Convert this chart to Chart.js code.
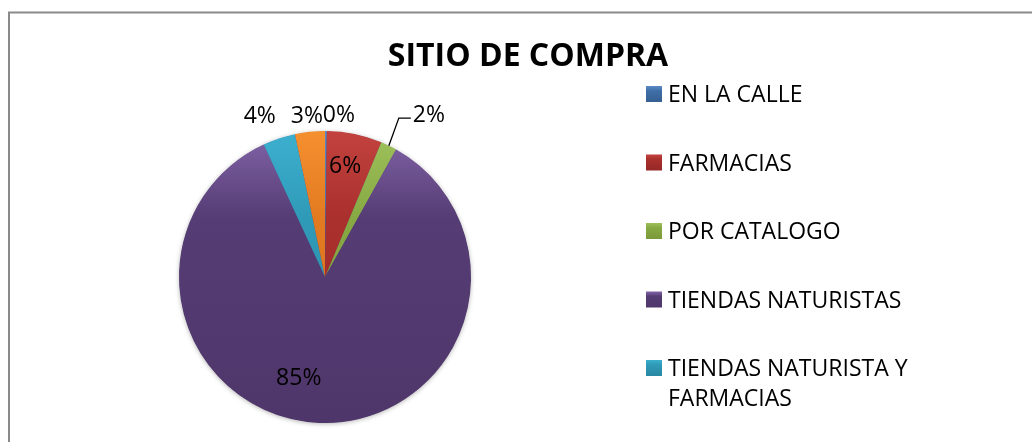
<!DOCTYPE html>
<html>
<head>
<meta charset="utf-8">
<title>Sitio de compra</title>
<script src="https://cdn.jsdelivr.net/npm/chart.js@4/dist/chart.umd.min.js"></script>
<style>
  body { margin: 0; background: #fff; }
  #wrap { position: relative; width: 1032px; height: 442px; }
</style>
</head>
<body>
<div id="wrap"><canvas id="pieChart" width="1032" height="442"></canvas></div>
<script>
// datos
var categorias = ['EN LA CALLE', 'FARMACIAS', 'POR CATALOGO', 'TIENDAS NATURISTAS', 'TIENDAS NATURISTA Y FARMACIAS', 'OTROS'];
var porcentajes = [0.2, 6.1, 1.8, 85.0, 3.6, 3.3];
var leyenda = [['EN LA CALLE'], ['FARMACIAS'], ['POR CATALOGO'], ['TIENDAS NATURISTAS'], ['TIENDAS NATURISTA Y', 'FARMACIAS']];
var titulo = 'SITIO DE COMPRA';

// colores estilo Office (claro, medio, oscuro)
var colores = [
  ['#5a8bc6', '#3f6fa8', '#365f91'],
  ['#c2423f', '#aa302d', '#952826'],
  ['#9fc15c', '#87a943', '#7a9a39'],
  ['#8264a8', '#553c74', '#4f366a'],
  ['#3db0cf', '#2f9ab8', '#2a88a2'],
  ['#f5902f', '#e27a21', '#d06e1c']
];

// posicion de etiquetas: factor de radio y giro (grados) respecto al centro de la porcion
var ajusteEtiquetas = [
  { r: 1.12, da: 4.5 },
  { r: 0.78, da: -1.5 },
  { r: 1.2, da: -1, guia: true },
  { r: 0.71, da: 12.5 },
  { r: 1.2, da: -3.5 },
  { r: 1.12, da: -0.4 }
];

var fuente = '"Open Sans", "DejaVu Sans", sans-serif';

function degradado(ctx, top, bottom, c) {
  var g = ctx.createLinearGradient(0, top, 0, bottom);
  g.addColorStop(0, c[0]);
  g.addColorStop(0.3, c[1]);
  g.addColorStop(1, c[2]);
  return g;
}

var marcoYTitulo = {
  id: 'marcoYTitulo',
  beforeDraw: function (chart) {
    var ctx = chart.ctx;
    ctx.save();
    ctx.strokeStyle = '#8a8a8a';
    ctx.lineWidth = 2;
    ctx.beginPath();
    ctx.moveTo(9, chart.height + 2);
    ctx.lineTo(9, 12.5);
    ctx.lineTo(chart.width + 2, 12.5);
    ctx.stroke();

    ctx.fillStyle = '#000';
    ctx.font = 'bold 32px ' + fuente;
    ctx.textAlign = 'center';
    ctx.textBaseline = 'alphabetic';
    ctx.fillText(titulo, 528, 54.5 + 32 * 0.357);
    ctx.restore();
  }
};

var sombra = {
  id: 'sombra',
  beforeDatasetsDraw: function (chart) {
    var arc = chart.getDatasetMeta(0).data[0];
    if (!arc) return;
    var ctx = chart.ctx;
    ctx.save();
    ctx.shadowColor = 'rgba(0,0,0,0.35)';
    ctx.shadowBlur = 5;
    ctx.shadowOffsetY = 1;
    ctx.fillStyle = '#553c74';
    ctx.beginPath();
    ctx.arc(arc.x, arc.y, arc.outerRadius - 0.5, 0, Math.PI * 2);
    ctx.fill();
    ctx.restore();
  }
};

var etiquetas = {
  id: 'etiquetas',
  afterDatasetsDraw: function (chart) {
    var ctx = chart.ctx;
    var meta = chart.getDatasetMeta(0);
    var size = 23;
    ctx.save();
    ctx.font = size + 'px ' + fuente;
    ctx.fillStyle = '#000';
    ctx.textBaseline = 'alphabetic';
    meta.data.forEach(function (arc, i) {
      var p = arc.getProps(['x', 'y', 'startAngle', 'endAngle', 'outerRadius'], true);
      var aj = ajusteEtiquetas[i];
      var texto = Math.round(porcentajes[i]) + '%';
      var mid = (p.startAngle + p.endAngle) / 2;
      var ang = mid + aj.da * Math.PI / 180;
      var x = p.x + Math.cos(ang) * p.outerRadius * aj.r;
      var y = p.y + Math.sin(ang) * p.outerRadius * aj.r;
      if (aj.guia) {
        var x0 = p.x + Math.cos(mid) * p.outerRadius;
        var y0 = p.y + Math.sin(mid) * p.outerRadius;
        ctx.strokeStyle = '#000';
        ctx.lineWidth = 1.3;
        ctx.beginPath();
        ctx.moveTo(x0, y0);
        ctx.lineTo(x, y);
        ctx.lineTo(x + 12, y);
        ctx.stroke();
        ctx.textAlign = 'left';
        ctx.fillText(texto, x + 14, y - 4 + size * 0.357);
      } else {
        ctx.textAlign = 'center';
        ctx.fillText(texto, x, y + size * 0.357);
      }
    });
    ctx.restore();
  }
};

var leyendaPropia = {
  id: 'leyendaPropia',
  afterDraw: function (chart) {
    var ctx = chart.ctx;
    var size = 23;
    var x = 646, y = 94, paso = 68.5, linea = 29.5, lado = 16;
    ctx.save();
    ctx.font = size + 'px ' + fuente;
    ctx.textAlign = 'left';
    ctx.textBaseline = 'alphabetic';
    leyenda.forEach(function (lineas, i) {
      var cy = y + i * paso;
      ctx.fillStyle = degradado(ctx, cy - lado / 2, cy + lado / 2, colores[i]);
      ctx.fillRect(x, cy - lado / 2, lado, lado);
      ctx.fillStyle = '#000';
      lineas.forEach(function (t, j) {
        ctx.fillText(t, x + 22, cy + j * linea + size * 0.357);
      });
    });
    ctx.restore();
  }
};

var pieCanvas = document.getElementById('pieChart').getContext('2d');

var pieChart = new Chart(pieCanvas, {
  type: 'pie',
  data: {
    labels: categorias,
    datasets: [{
      data: porcentajes,
      borderWidth: 0,
      backgroundColor: function (context) {
        var ca = context.chart.chartArea;
        var c = colores[context.dataIndex % colores.length];
        if (!ca) return c[1];
        return degradado(context.chart.ctx, ca.top, ca.bottom, c);
      }
    }]
  },
  options: {
    responsive: false,
    animation: false,
    layout: { padding: { left: 179, right: 561, top: 131, bottom: 19 } },
    plugins: {
      legend: { display: false },
      title: { display: false },
      tooltip: { enabled: false }
    }
  },
  plugins: [marcoYTitulo, sombra, etiquetas, leyendaPropia]
});
</script>
</body>
</html>
